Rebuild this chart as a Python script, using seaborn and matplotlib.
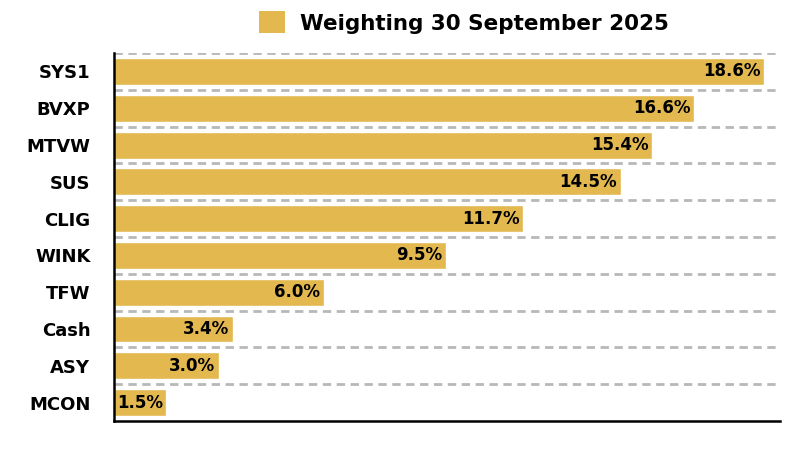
import matplotlib
matplotlib.use("Agg")
import matplotlib.pyplot as plt
import seaborn as sns
import pandas as pd
from matplotlib.patches import Patch

categories = ["SYS1", "BVXP", "MTVW", "SUS", "CLIG", "WINK", "TFW", "Cash", "ASY", "MCON"]
weights = [18.6, 16.6, 15.4, 14.5, 11.7, 9.5, 6.0, 3.4, 3.0, 1.5]
legend_label = "Weighting 30 September 2025"

df = pd.DataFrame({"cat": categories, "w": weights})

sns.set_style("white")
plt.rcParams['font.family'] = ['DejaVu Sans']
plt.rcParams['text.color'] = 'black'
plt.rcParams['ytick.color'] = 'black'

gold = "#E3B84F"
fig = plt.figure(figsize=(8, 4.5), dpi=100)
ax = fig.add_axes([0.1425, 0.0644, 0.8325, 0.8176])

sns.barplot(data=df, x="w", y="cat", orient="h", color=gold, width=0.73,
            saturation=1, ax=ax, zorder=3)

ax.set_xlim(0, 19.06)
ax.set_ylim(len(categories) - 0.5, -0.5)
ax.set_xlabel("")
ax.set_ylabel("")
ax.set_xticks([])
for b in [i - 0.5 for i in range(len(categories))]:
    ax.axhline(b, color="#B8B8B8", linestyle=(0, (3, 2)), linewidth=2, zorder=1)

for i, v in enumerate(weights):
    ax.text(v - 0.1, i, f"{v:.1f}%", ha="right", va="center",
            fontsize=12, fontweight="bold", color="black", zorder=4)

ax.tick_params(axis="y", length=0, pad=17, labelsize=13, labelcolor="black")
for lab in ax.get_yticklabels():
    lab.set_fontweight("bold")

for s in ["top", "right"]:
    ax.spines[s].set_visible(False)
for s in ["left", "bottom"]:
    ax.spines[s].set_color("black")
    ax.spines[s].set_linewidth(1.8)
    ax.spines[s].set_zorder(5)

handle = Patch(facecolor=gold, edgecolor="none")
fig.legend([handle], [legend_label], loc="center", bbox_to_anchor=(0.58, 0.95),
           frameon=False, prop={"size": 15.5, "weight": "bold"},
           handlelength=1.2, handleheight=1.2, handletextpad=0.7,
           labelcolor="black")

fig.savefig("out.png", dpi=100)
